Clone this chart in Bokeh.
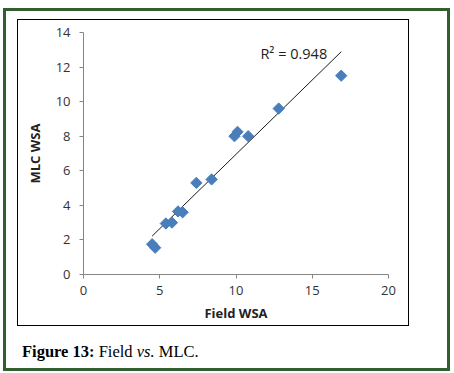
import numpy as np
from bokeh.plotting import figure
from bokeh.models import Label, Range1d, FixedTicker, Div
from bokeh.layouts import column
from bokeh.embed import file_html
from bokeh.resources import INLINE

# Data
field_wsa = [4.5, 4.7, 5.4, 5.8, 6.2, 6.5, 7.4, 8.4, 9.9, 10.1, 10.8, 12.8, 16.9]
mlc_wsa = [1.75, 1.55, 2.95, 3.0, 3.65, 3.6, 5.3, 5.5, 8.0, 8.25, 8.0, 9.6, 11.5]
x_ticks = [0, 5, 10, 15, 20]
y_ticks = [0, 2, 4, 6, 8, 10, 12, 14]
r2_text = "R² = 0.948"

p = figure(width=390, height=305, output_backend="svg", toolbar_location=None,
           x_range=Range1d(0, 20), y_range=Range1d(0, 14),
           min_border_left=65, min_border_right=22,
           min_border_top=12, min_border_bottom=53,
           styles={"border": "1.5px solid black", "box-sizing": "content-box",
                   "margin-left": "10.5px", "margin-top": "7.5px"})
p.outline_line_color = None
p.grid.visible = False
p.background_fill_color = "white"
p.border_fill_color = "white"

axis_font = "Open Sans"
for ax, ticks in ((p.xaxis[0], x_ticks), (p.yaxis[0], y_ticks)):
    ax.ticker = FixedTicker(ticks=ticks)
    ax.minor_tick_line_color = None
    ax.axis_line_color = "#868686"
    ax.major_tick_line_color = "#868686"
    ax.major_tick_out = 4
    ax.major_tick_in = 0
    ax.major_label_text_font = axis_font
    ax.major_label_text_font_size = "13px"
    ax.major_label_text_color = "#333333"
    ax.axis_label_text_font = axis_font
    ax.axis_label_text_font_size = "13px"
    ax.axis_label_text_font_style = "bold"
    ax.axis_label_text_color = "#222222"
p.xaxis.axis_label = "Field WSA"
p.yaxis.axis_label = "MLC WSA"
p.xaxis.major_label_standoff = 7
p.yaxis.major_label_standoff = 9
p.xaxis.axis_label_standoff = 6
p.yaxis.axis_label_standoff = 9

# trend line (least squares fit of the data)
xs = np.array(field_wsa)
ys = np.array(mlc_wsa)
slope, intercept = np.polyfit(xs, ys, 1)
x_line = np.array([xs.min(), xs.max()])
p.line(x_line, slope * x_line + intercept, line_color="#1a1a1a", line_width=1)

p.scatter(field_wsa, mlc_wsa, marker="square", size=8, angle=np.pi / 4,
          fill_color="#4a7ebb", line_color="#4a7ebb")

p.add_layout(Label(x=11.6, y=12.8, text=r2_text, text_font=axis_font,
                   text_font_size="14.5px", text_baseline="middle", text_color="#222222"))

caption = Div(
    text='<span style="font-weight:bold">Figure 13:</span> Field <i>vs.</i> MLC.',
    width=420, height=33,
    styles={"font-family": "'Liberation Serif', serif", "font-size": "16.5px",
            "line-height": "20px", "padding-top": "11px", "padding-left": "11px",
            "box-sizing": "border-box", "color": "black"})

root = column(p, caption,
              styles={"border": "3.5px solid #335e2d", "box-sizing": "content-box",
                      "margin-left": "3px", "margin-top": "8px",
                      "width": "441px", "height": "356.5px", "background": "white"})

open("out.html", "w").write(file_html(root, INLINE))
